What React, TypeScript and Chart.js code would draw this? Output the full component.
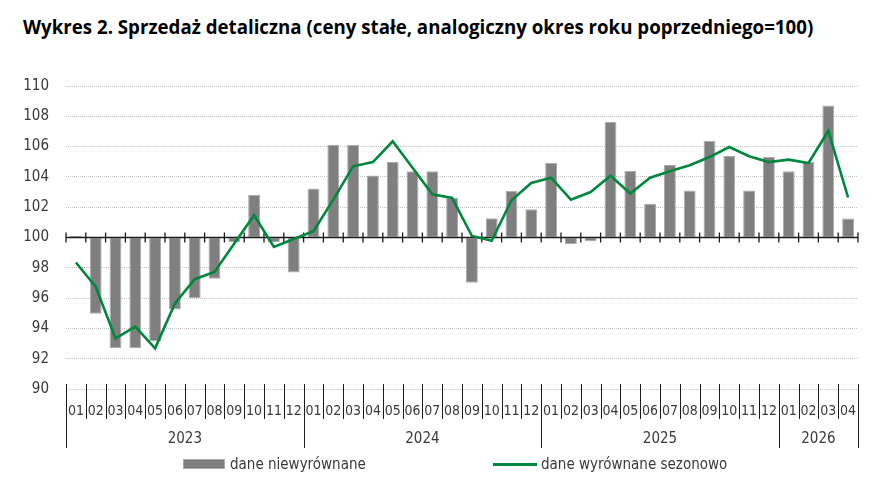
import React, { useEffect, useRef } from 'react';
import { Chart, registerables } from 'chart.js';

Chart.register(...registerables);

// months of 2023-2026 (last year only Jan-Apr)
const MONTHS = [
  '01', '02', '03', '04', '05', '06', '07', '08', '09', '10', '11', '12',
  '01', '02', '03', '04', '05', '06', '07', '08', '09', '10', '11', '12',
  '01', '02', '03', '04', '05', '06', '07', '08', '09', '10', '11', '12',
  '01', '02', '03', '04',
];
const YEARS = ['2023', '2024', '2025', '2026'];
const MONTHS_PER_YEAR = [12, 12, 12, 4];
const Y_TICKS = [90, 92, 94, 96, 98, 100, 102, 104, 106, 108, 110];
const BASE = 100;

// dane niewyrównane
const UNADJUSTED = [
  100.12, 94.96, 92.7, 92.7, 93.15, 95.25, 96.0, 97.27, 99.7, 102.83, 99.7, 97.69,
  103.23, 106.13, 106.13, 104.1, 104.98, 104.37, 104.37, 102.61, 97.01, 101.27, 103.08, 101.87,
  104.92, 99.56, 99.76, 107.62, 104.39, 102.22, 104.79, 103.1, 106.39, 105.38, 103.1, 105.31,
  104.37, 105.0, 108.72, 101.25,
];
// dane wyrównane sezonowo
const SEASONALLY_ADJUSTED = [
  98.35, 96.75, 93.34, 94.11, 92.68, 95.65, 97.25, 97.73, 99.6, 101.47, 99.38, 99.9,
  100.42, 102.5, 104.7, 104.98, 106.35, 104.6, 102.85, 102.61, 100.1, 99.78, 102.46, 103.6,
  103.95, 102.5, 103.0, 104.08, 102.9, 103.95, 104.37, 104.77, 105.31, 105.97, 105.36, 104.98,
  105.14, 104.92, 107.03, 102.64,
];

const NARROW = '"Liberation Sans Narrow", "DejaVu Sans Condensed", Roboto, sans-serif';
const BAR_FILL = '#7f7f7f';
const BAR_EDGE = '#ababab';
const GREEN = '#00873e';
const INK = '#1a1a1a';
const LABEL = '#3a3a3a';

// zero line with ticks + grouped month/year axis under the plot
const axesPlugin = {
  id: 'gusAxes',
  beforeDatasetDraw(chart: any, args: any) {
    if (args.index !== 1) return;
    const { ctx, chartArea } = chart;
    const x = chart.scales.x;
    const y0 = chart.scales.y.getPixelForValue(BASE);
    const step = x.getPixelForValue(1) - x.getPixelForValue(0);
    ctx.save();
    ctx.strokeStyle = INK;
    ctx.lineWidth = 1.3;
    ctx.beginPath();
    ctx.moveTo(chartArea.left, y0);
    ctx.lineTo(chartArea.right, y0);
    for (let i = 0; i <= MONTHS.length; i++) {
      const px = x.getPixelForValue(0) + (i - 0.5) * step;
      ctx.moveTo(px, y0 - 5);
      ctx.lineTo(px, y0 + 5);
    }
    ctx.stroke();
    ctx.restore();
  },
  afterDraw(chart: any) {
    const { ctx, chartArea } = chart;
    const x = chart.scales.x;
    const step = x.getPixelForValue(1) - x.getPixelForValue(0);
    const edge = (i: number) => x.getPixelForValue(0) + (i - 0.5) * step;
    const top = chartArea.bottom - 5;
    ctx.save();
    ctx.strokeStyle = INK;
    ctx.lineWidth = 1;
    ctx.beginPath();
    for (let i = 0; i <= MONTHS.length; i++) {
      const px = Math.round(edge(i)) + 0.5;
      ctx.moveTo(px, top);
      ctx.lineTo(px, chartArea.bottom + 30);
    }
    let start = 0;
    const bounds = [0];
    MONTHS_PER_YEAR.forEach((n) => { start += n; bounds.push(start); });
    bounds.forEach((b) => {
      const px = Math.round(edge(b)) + 0.5;
      ctx.moveTo(px, chartArea.bottom + 30);
      ctx.lineTo(px, chartArea.bottom + 59);
    });
    ctx.stroke();
    ctx.fillStyle = LABEL;
    ctx.font = `15px ${NARROW}`;
    ctx.textAlign = 'center';
    ctx.textBaseline = 'middle';
    YEARS.forEach((yr, k) => {
      const mid = (edge(bounds[k]) + edge(bounds[k + 1])) / 2;
      ctx.fillText(yr, mid, chartArea.bottom + 50);
    });
    ctx.restore();
  },
};

export default function App() {
  const canvasRef = useRef<HTMLCanvasElement>(null);

  useEffect(() => {
    document.body.style.margin = '0';
    const canvas = canvasRef.current;
    if (!canvas) return;

    const chart = new Chart(canvas, {
      type: 'bar',
      data: {
        labels: MONTHS,
        datasets: [
          {
            type: 'bar',
            label: 'dane niewyrównane',
            data: UNADJUSTED.map((v) => [BASE, v]) as any,
            backgroundColor: BAR_FILL,
            borderColor: BAR_EDGE,
            borderWidth: 1,
            borderSkipped: false,
            barPercentage: 0.6,
            categoryPercentage: 1,
            order: 1,
          },
          {
            type: 'line',
            label: 'dane wyrównane sezonowo',
            data: SEASONALLY_ADJUSTED,
            borderColor: GREEN,
            backgroundColor: GREEN,
            borderWidth: 2.6,
            pointRadius: 0,
            tension: 0,
            fill: false,
            order: 0,
          },
        ],
      },
      options: {
        animation: false,
        responsive: true,
        maintainAspectRatio: false,
        layout: { padding: { top: 86, right: 30, left: 0, bottom: 0 } },
        plugins: {
          legend: { display: false },
          tooltip: { enabled: false },
        },
        scales: {
          x: {
            grid: { display: false },
            border: { display: false },
            ticks: {
              autoSkip: false,
              maxRotation: 0,
              padding: 6,
              color: LABEL,
              font: { family: NARROW, size: 14 },
            },
            afterFit: (s: any) => { s.height = 112; },
          },
          y: {
            min: Y_TICKS[0],
            max: Y_TICKS[Y_TICKS.length - 1],
            afterBuildTicks: (s: any) => { s.ticks = Y_TICKS.map((v) => ({ value: v })); },
            grid: { color: '#c2c2c2', lineWidth: 1, drawTicks: false },
            border: { display: false, dash: [1, 1] },
            ticks: {
              padding: 17,
              color: LABEL,
              font: { family: NARROW, size: 15 },
            },
            afterFit: (s: any) => { s.width = 66; },
          },
        },
      },
      plugins: [axesPlugin],
    });

    return () => chart.destroy();
  }, []);

  return (
    <div style={{ position: 'relative', width: 888, height: 501, background: '#fff' }}>
      <div
        style={{
          position: 'absolute', left: 23, top: 14, whiteSpace: 'nowrap',
          font: '700 18.7px "Open Sans", Lato, sans-serif', color: '#000',
        }}
      >
        Wykres 2. Sprzedaż detaliczna (ceny stałe, analogiczny okres roku poprzedniego=100)
      </div>
      <canvas ref={canvasRef} style={{ position: 'absolute', left: 0, top: 0 }} />
      <div
        style={{
          position: 'absolute', left: 183, top: 455, display: 'flex', alignItems: 'center',
          font: `15px ${NARROW}`, color: LABEL,
        }}
      >
        <span style={{ width: 40, height: 8, background: BAR_FILL, border: `1px solid ${BAR_EDGE}`, marginRight: 5 }} />
        <span>dane niewyrównane</span>
      </div>
      <div
        style={{
          position: 'absolute', left: 493, top: 455, display: 'flex', alignItems: 'center',
          font: `15px ${NARROW}`, color: LABEL,
        }}
      >
        <span style={{ width: 44, height: 3, background: GREEN, marginRight: 4 }} />
        <span>dane wyrównane sezonowo</span>
      </div>
    </div>
  );
}
